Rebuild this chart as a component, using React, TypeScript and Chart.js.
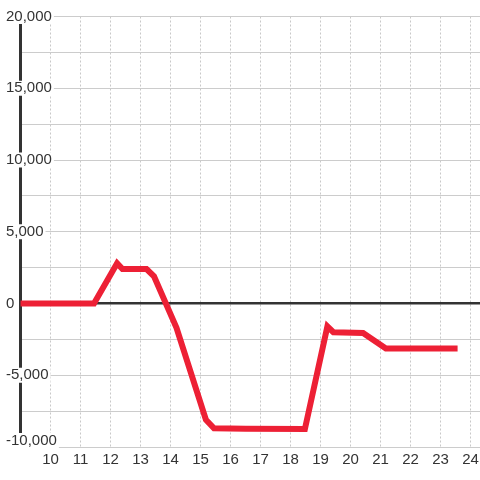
import React, { useEffect, useRef } from 'react';
import { Chart, registerables } from 'chart.js';

Chart.register(...registerables);

// Series (x = hour, y = value)
const xValues = [9, 11.45, 12.22, 12.4, 13.2, 13.45, 14.2, 15.18, 15.45, 16.5, 18.48, 19.23, 19.43, 20.42, 21.18, 23.47];
const yValues = [0, 0, 2800, 2400, 2400, 1900, -1700, -8100, -8700, -8730, -8750, -1600, -2000, -2050, -3130, -3130];

// Axis tick labels
const xTickLabels = [10, 11, 12, 13, 14, 15, 16, 17, 18, 19, 20, 21, 22, 23, 24];
const yTickValues = [-10000, -5000, 0, 5000, 10000, 15000, 20000];
const yTickLabels = ['-10,000', '-5,000', '0', '5,000', '10,000', '15,000', '20,000'];

const FONT = '"Liberation Sans", Arial, Helvetica, sans-serif';

const shiftBottomLabel = {
  id: 'shiftBottomLabel',
  beforeDraw(chart: any) {
    try {
      const s: any = chart.scales.y;
      const items = s.getLabelItems();
      if (items && items.length && !items[0].__shifted) {
        items[0].options.translation[1] -= 6.5;
        items[0].__shifted = true;
      }
    } catch (e) {
      // ignore
    }
  },
};

export default function App() {
  const ref = useRef<HTMLCanvasElement | null>(null);

  useEffect(() => {
    if (!ref.current) return;
    const data = xValues.map((x, i) => ({ x, y: yValues[i] }));
    const chart = new Chart(ref.current, {
      type: 'line',
      data: {
        datasets: [
          {
            data,
            borderColor: '#ED2035',
            borderWidth: 6,
            borderCapStyle: 'square',
            borderJoinStyle: 'miter',
            pointRadius: 0,
            pointHoverRadius: 0,
            fill: false,
            tension: 0,
          },
        ],
      },
      options: {
        responsive: false,
        animation: false,
        events: [],
        layout: { padding: { left: 20.5, top: 16.5, right: 0, bottom: 7 } },
        plugins: {
          legend: { display: false },
          tooltip: { enabled: false },
          title: { display: false },
        },
        scales: {
          x: {
            type: 'linear',
            min: 9,
            max: 24.317,
            ticks: {
              stepSize: 1,
              includeBounds: false,
              autoSkip: false,
              maxRotation: 0,
              minRotation: 0,
              padding: 1,
              color: '#333',
              font: { family: FONT, size: 15, lineHeight: 1.6 },
              callback: (v: any) => (xTickLabels.includes(Number(v)) ? String(v) : ''),
            },
            grid: { color: '#c8c8c8', lineWidth: 1, drawTicks: false },
            border: { display: false, dash: [2, 2] },
          },
          y: {
            type: 'linear',
            min: -10000,
            max: 20000,
            afterFit: (s: any) => {
              s.width = 0;
            },
            ticks: {
              stepSize: 2500,
              autoSkip: false,
              mirror: true,
              crossAlign: 'near',
              padding: -14.5,
              color: '#333',
              font: { family: FONT, size: 15, lineHeight: 1.0 },
              callback: (v: any) => {
                const i = yTickValues.indexOf(Number(v));
                return i >= 0 ? yTickLabels[i] : '';
              },
              showLabelBackdrop: (ctx: any) => yTickValues.includes(ctx.tick?.value),
              backdropColor: '#ffffff',
              backdropPadding: { x: 2, y: 0 },
            },
            grid: {
              color: (ctx: any) => (ctx.tick && ctx.tick.value === 0 ? '#333' : '#cccccc'),
              lineWidth: (ctx: any) => (ctx.tick && ctx.tick.value === 0 ? 2.5 : 1),
              drawTicks: false,
            },
            border: { display: true, color: '#333', width: 3 },
          },
        },
      },
      plugins: [shiftBottomLabel],
    } as any);
    return () => chart.destroy();
  }, []);

  return (
    <div style={{ position: 'absolute', left: 0, top: 0, width: 480, height: 480, background: '#fff' }}>
      <canvas ref={ref} width={480} height={480} style={{ display: 'block' }} />
    </div>
  );
}
